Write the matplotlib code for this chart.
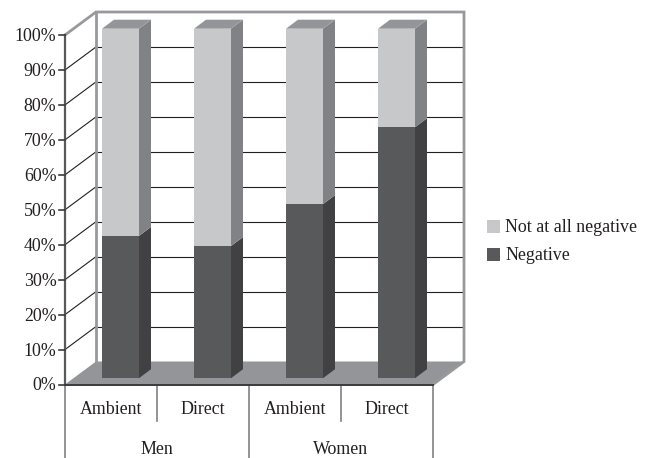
import matplotlib
matplotlib.use("Agg")
import matplotlib.pyplot as plt
from matplotlib.patches import Polygon, Rectangle

plt.rcParams["font.family"] = "Liberation Serif"

subgroups = ["Ambient", "Direct", "Ambient", "Direct"]
groups = ["Men", "Women"]
negative = [40.7, 37.8, 49.8, 71.8]
not_negative = [59.3, 62.2, 50.2, 28.2]
y_ticks = [0, 10, 20, 30, 40, 50, 60, 70, 80, 90, 100]

W, H = 647, 458
TEXT = "#231f20"
WALL = "#939598"
DARK_LINE = "#3a3a3c"
FS = 12.9

fig = plt.figure(figsize=(W / 100, H / 100), dpi=100)
# axes = front plane of the 3d box, one x unit per category
x0, x1, y_top, y_bot = 65, 433, 35, 384.5
ax = fig.add_axes([x0 / W, 1 - y_bot / H, (x1 - x0) / W, (y_bot - y_top) / H])
ax.set_xlim(0, 4)
ax.set_ylim(0, 100)
ax.axis("off")

ux = (x1 - x0) / 4  # px per category
uy = (y_bot - y_top) / 100  # px per percent


def off(dx, dy):
    # pixel offset to data offset (dy up)
    return dx / ux, dy / uy


bx, by = off(31, 23)  # box depth
sx, sy = off(12, 9)  # bar depth
px, py = off(37, 6.3)  # bar shift from front plane
bar_w = 37 / ux

# floor
ax.add_patch(Polygon([(0, 0), (4, 0), (4 + bx, by), (bx, by)], fc=WALL, ec="none", zorder=1, clip_on=False))

# gridlines, side wall and back wall
for t in y_ticks[1:-1]:
    ax.plot([0, bx], [t, t + by], color="#231f20", lw=0.8, zorder=1, clip_on=False)
    ax.plot([bx, 4 + bx], [t + by, t + by], color="#231f20", lw=0.8, zorder=1, clip_on=False)

# box outline
ax.plot([0, bx, 4 + bx, 4 + bx, 4], [100, 100 + by, 100 + by, by, 0], color="#97999c", lw=2.0,
        zorder=2, clip_on=False, solid_joinstyle="miter")
ax.plot([bx, bx], [by, 100 + by], color="#97999c", lw=2.0, zorder=2, clip_on=False)

# bars
for i in range(4):
    left = i + px
    right = left + bar_w
    n = negative[i]
    top = n + not_negative[i]
    ax.bar(left, n, bottom=py, width=bar_w, align="edge", color="#58595b", zorder=3, clip_on=False)
    ax.bar(left, not_negative[i], bottom=n + py, width=bar_w, align="edge", color="#c7c8ca", zorder=3, clip_on=False)
    ax.add_patch(Polygon([(right, py), (right + sx, py + sy), (right + sx, py + n + sy), (right, py + n)],
                         fc="#414042", ec="none", zorder=3, clip_on=False))
    ax.add_patch(Polygon([(right, py + n), (right + sx, py + n + sy), (right + sx, py + top + sy), (right, py + top)],
                         fc="#808285", ec="none", zorder=3, clip_on=False))
    ax.add_patch(Polygon([(left, py + top), (right, py + top), (right + sx, py + top + sy), (left + sx, py + top + sy)],
                         fc="#939598", ec="none", zorder=3, clip_on=False))

# axes lines
ax.plot([0, 0], [0, 100], color="#58595b", lw=1.6, zorder=4, clip_on=False)
ax.plot([0, 4], [0, 0], color=DARK_LINE, lw=1.4, zorder=4, clip_on=False)
tick_len = 6 / ux
for t in y_ticks:
    ax.plot([-tick_len, 0], [t, t], color=DARK_LINE, lw=1.2, zorder=4, clip_on=False)
    ax.text(-tick_len - 2.5 / ux, t - 1.5 / uy, f"{t}%", ha="right", va="center", fontsize=FS, color=TEXT)

# two level category axis
short = -36 / uy
long = -74 / uy
for i in range(5):
    ax.plot([i, i], [0, long if i % 2 == 0 else short], color="#808285", lw=1.2, zorder=2, clip_on=False)
for i, s in enumerate(subgroups):
    ax.text(i + 0.5, -24.5 / uy, s, ha="center", va="center", fontsize=FS, color=TEXT)
for i, g in enumerate(groups):
    ax.text(2 * i + 1, -64.5 / uy, g, ha="center", va="center", fontsize=FS, color=TEXT)

# legend, figure pixel coordinates
for y, c, s in [(226, "#c7c8ca", "Not at all negative"), (254, "#58595b", "Negative")]:
    fig.add_artist(Rectangle((487 / W, 1 - (y + 3.5 - 3) / H - 6 / H), 13 / W, 13 / H, fc=c, ec="none",
                             transform=fig.transFigure))
    fig.text(505 / W, 1 - (y + 1.5) / H, s, ha="left", va="center", fontsize=FS, color=TEXT)

fig.savefig("out.png", dpi=100)
